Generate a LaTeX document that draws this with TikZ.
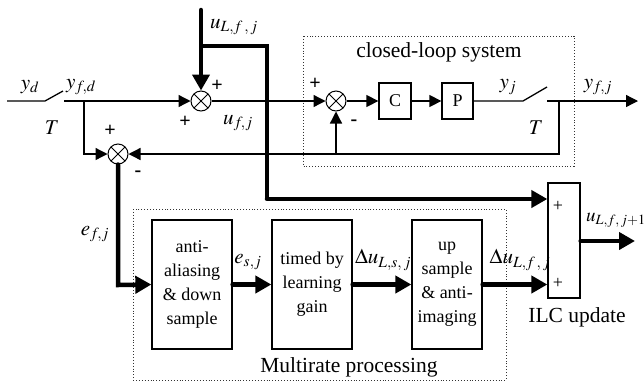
\documentclass[tikz,border=0pt]{standalone}
\usepackage{mathptmx}
\usepackage{fontspec}
\setmainfont{Liberation Serif}
\usetikzlibrary{arrows.meta,calc}
\begin{document}
\begin{tikzpicture}[x=1pt,y=-1pt,
  thinl/.style={line width=1.3pt},
  thickl/.style={line width=4.5pt, line cap=round},
  tarrow/.style={-{Triangle[length=12pt,width=12pt]}},
  Tarrow/.style={-{Triangle[length=16pt,width=17pt]}},
  sumnode/.style={circle, draw, line width=1pt, minimum size=20pt, inner sep=0pt,
    path picture={\draw[line width=0.8pt] (path picture bounding box.north west) -- (path picture bounding box.south east)
      (path picture bounding box.north east) -- (path picture bounding box.south west);}},
  blk/.style={draw, line width=1.3pt, inner sep=0pt, align=center, font=\fontsize{18}{24}\selectfont},
  lbl/.style={font=\fontsize{21}{25}\selectfont, inner sep=0pt},
  sgn/.style={font=\fontsize{20}{24}\selectfont\bfseries, inner sep=0pt},
  ttl/.style={font=\fontsize{21.5}{25}\selectfont, inner sep=0pt},
  dotbox/.style={draw, dotted, line width=0.9pt, black!80}
]
\useasboundingbox (0,0) rectangle (644,381);

% dotted group boxes
\draw[dotbox] (303,36) rectangle (574,166);
\draw[dotbox] (133,209) rectangle (506,380);
\node[ttl] (tcl) at (439,52) {closed-loop system};
\node[ttl] (tmr) at (349,367) {Multirate processing};

% nodes
\node[sumnode] (sum1) at (201,101) {};
\node[sumnode] (sum2) at (118,154) {};
\node[sumnode] (sum3) at (336,101) {};
\node[blk, minimum width=32pt, minimum height=36pt] (C) at (395,101) {C};
\node[blk, minimum width=31pt, minimum height=36pt] (P) at (457.5,101) {P};
\node[blk, minimum width=80pt, minimum height=129pt] (b1) at (192,284.5) {anti-\\aliasing\\\& down\\sample};
\node[blk, minimum width=80pt, minimum height=129pt] (b2) at (312,284.5) {timed by\\learning\\gain};
\node[blk, minimum width=70pt, minimum height=129pt] (b3) at (447,284.5) {up\\sample\\\& anti-\\imaging};
\node[blk, minimum width=32pt, minimum height=115pt] (ilc) at (564,240.5) {};

% coordinates
\coordinate (in) at (7,101);
\coordinate (sw1a) at (45,101);
\coordinate (sw1b) at (63,91);
\coordinate (sw1c) at (64,101);
\coordinate (br1) at (84,101);
\coordinate (br1d) at (84,154);
\coordinate (sw2a) at (523,101);
\coordinate (sw2b) at (547,87);
\coordinate (sw2c) at (547,101);
\coordinate (out) at (638,101);
\coordinate (br2) at (559,101);
\coordinate (br2d) at (559,154);
\coordinate (fb3) at (336,154);
\coordinate (ul) at (201,10);
\coordinate (tap) at (201,46);
\coordinate (cA) at (267,46);
\coordinate (cB) at (267,199);
\coordinate (ed) at (118,285);
\coordinate (uout) at (635,241);

% thin connectors
\draw[thinl] (in) -- (sw1a) -- (sw1b);
\draw[thinl, tarrow] (sw1c) -- (sum1.west);
\draw[thinl, tarrow] (br1) -- (br1d) -- (sum2.west);
\draw[thinl, tarrow] (sum1.east) -- (sum3.west);
\draw[thinl, tarrow] (sum3.east) -- (C.west);
\draw[thinl, tarrow] (C.east) -- (P.west);
\draw[thinl] (P.east) -- (sw2a) -- (sw2b);
\draw[thinl, tarrow] (sw2c) -- (out);
\draw[thinl, tarrow] (br2) -- (br2d) -- (sum2.east);
\draw[thinl, tarrow] (fb3) -- (sum3.south);

% thick connectors
\draw[thickl, Tarrow] (ul) -- (sum1.north);
\draw[thickl, line join=miter, line cap=butt] (tap) -- (cA) -- (cB);
\draw[thickl, Tarrow] (cB) -- (cB -| ilc.west);
\draw[thickl, line join=miter, Tarrow] (sum2.south) -- (ed) -- (b1.west);
\draw[thickl, Tarrow] (b1.east) -- (b2.west);
\draw[thickl, Tarrow] (b2.east) -- (b3.west);
\draw[thickl, Tarrow] (b3.east) -- (b3.east -| ilc.west);
\draw[thickl, Tarrow] (ilc.east |- uout) -- (uout);

% signs
\node[sgn] (p1) at (217,86) {+};
\node[sgn] (p2) at (185,122) {+};
\node[sgn] (p3) at (110,131) {+};
\node[sgn] (m1) at (138,174) {-};
\node[sgn] (p4) at (315,84) {+};
\node[sgn] (m2) at (354,123) {-};
\node[font=\fontsize{18}{20}\selectfont, inner sep=0pt] (p5) at (558,206) {+};
\node[font=\fontsize{18}{20}\selectfont, inner sep=0pt] (p6) at (558,283) {+};

% labels
\node[lbl] (lyd) at (30,87) {$y_d$};
\node[lbl] (lyfd) at (81,87) {$y_{f\!,d}$};
\node[lbl] (lT1) at (52,128) {$T$};
\node[lbl] (lT2) at (536,128) {$T$};
\node[lbl] (lulfj) at (234,27) {$u_{L,f\,,\,j}$};
\node[lbl] (lufj) at (238,123) {$u_{f\!,j}$};
\node[lbl] (lyj) at (508,87) {$y_j$};
\node[lbl] (lyfj) at (598,87) {$y_{f\!,j}$};
\node[lbl] (lefj) at (95,234) {$e_{f\!,j}$};
\node[lbl] (lesj) at (248,262) {$e_{s,j}$};
\node[lbl] (ldus) at (383,260) {$\Delta u_{L,s,\,j}$};
\node[lbl] (lduf) at (520,260) {$\Delta u_{L,f\,,\,j}$};
\node[lbl, font=\fontsize{19}{22}\selectfont, anchor=west] (lunext) at (586,220) {$u_{L,f,\,j+1}$};
\node[ttl] (lilc) at (577,317) {ILC update};
\end{tikzpicture}
\end{document}
